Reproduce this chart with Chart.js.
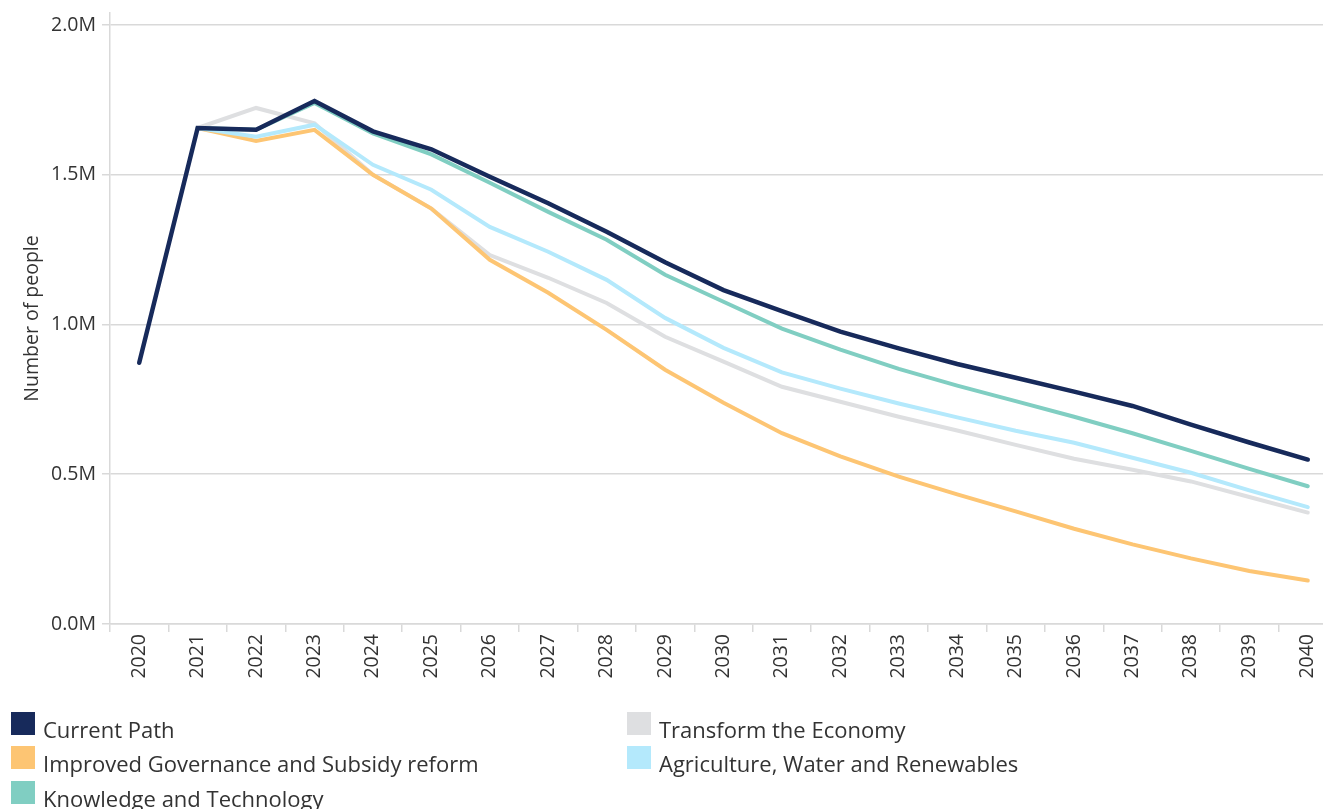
<!DOCTYPE html>
<html>
<head>
<meta charset="utf-8">
<script src="https://cdn.jsdelivr.net/npm/chart.js@4.4.1/dist/chart.umd.min.js"></script>
<style>
  html, body { margin: 0; padding: 0; background: #fff; width: 1323px; height: 809px; overflow: hidden; }
  #wrap { position: absolute; left: 0; top: 0; width: 1337px; height: 700px; }
  #legend { position: absolute; left: 0; top: 0; width: 1323px; height: 809px; pointer-events: none; }
  .lg-box { position: absolute; width: 24px; height: 23px; }
  .lg-txt { position: absolute; font-family: "Open Sans", sans-serif; font-size: 22px; line-height: 24px; color: #333; white-space: nowrap; }
</style>
</head>
<body>
<div id="wrap"><canvas id="chart" width="1337" height="700" style="width:1337px;height:700px"></canvas></div>
<div id="legend"></div>
<script>
// Categories
const years = ["2020","2021","2022","2023","2024","2025","2026","2027","2028","2029","2030",
               "2031","2032","2033","2034","2035","2036","2037","2038","2039","2040"];

// Series values (millions of people)
const currentPath = [0.872, 1.656, 1.650, 1.746, 1.645, 1.585, 1.493, 1.405, 1.310, 1.208, 1.115,
                     1.045, 0.976, 0.920, 0.868, 0.822, 0.776, 0.728, 0.666, 0.606, 0.549];
const transformEconomy = [null, 1.656, 1.723, 1.672, 1.500, 1.387, 1.232, 1.156, 1.072, 0.959, 0.876,
                          0.792, 0.742, 0.692, 0.646, 0.598, 0.552, 0.515, 0.476, 0.424, 0.372];
const improvedGovernance = [null, 1.656, 1.613, 1.650, 1.500, 1.387, 1.216, 1.106, 0.982, 0.849, 0.739,
                            0.637, 0.560, 0.492, 0.433, 0.376, 0.318, 0.266, 0.219, 0.177, 0.145];
const agricultureWater = [null, 1.656, 1.627, 1.667, 1.533, 1.450, 1.326, 1.243, 1.149, 1.022, 0.922,
                          0.840, 0.786, 0.736, 0.690, 0.645, 0.605, 0.555, 0.505, 0.446, 0.390];
const knowledgeTech = [null, 1.656, 1.650, 1.740, 1.638, 1.568, 1.473, 1.376, 1.283, 1.166, 1.076,
                       0.986, 0.916, 0.852, 0.796, 0.744, 0.692, 0.637, 0.578, 0.518, 0.460];

// Tick values for the y axis (millions)
const yTicks = [0, 0.5, 1.0, 1.5, 2.0];

// Series names and colours in legend order
const seriesNames = ["Current Path", "Transform the Economy", "Improved Governance and Subsidy reform",
                     "Agriculture, Water and Renewables", "Knowledge and Technology"];
const seriesValues = [currentPath, transformEconomy, improvedGovernance, agricultureWater, knowledgeTech];
const seriesColors = ["#172a5b", "#dedfe1", "#fdc573", "#b4e9fc", "#80cec2"];
const seriesWidths = [4.5, 4, 4, 4, 4];
const seriesOrder = [0, 4, 3, 2, 1];

const gridColor = "#d9d9d9";
const FONT = "'Open Sans', sans-serif";

const datasets = seriesNames.map((name, i) => ({
  label: name,
  data: seriesValues[i],
  borderColor: seriesColors[i],
  backgroundColor: seriesColors[i],
  borderWidth: seriesWidths[i],
  pointRadius: 0,
  pointHoverRadius: 0,
  tension: 0,
  fill: false,
  borderCapStyle: "round",
  borderJoinStyle: "miter",
  spanGaps: false,
  order: seriesOrder[i]
}));

new Chart(document.getElementById("chart"), {
  type: "line",
  data: { labels: years, datasets },
  options: {
    responsive: false,
    animation: false,
    devicePixelRatio: 1,
    layout: { padding: { top: 13, left: 0, right: 0, bottom: 0 } },
    plugins: { legend: { display: false }, tooltip: { enabled: false } },
    scales: {
      x: {
        type: "category",
        offset: true,
        grid: { display: true, drawOnChartArea: false, drawTicks: true, tickLength: 8, color: gridColor, lineWidth: 1.5, offset: true },
        border: { display: true, color: gridColor, width: 1.5 },
        ticks: { minRotation: 90, maxRotation: 90, autoSkip: false, padding: 2, color: "#333",
                 font: { family: FONT, size: 19.5 } },
        afterFit: (s) => { s.height = 76; s.paddingLeft = 0; s.paddingRight = 0; }
      },
      y: {
        min: 0,
        max: 2.04,
        afterBuildTicks: (s) => { s.ticks = yTicks.map(v => ({ value: v })); },
        grid: { color: gridColor, lineWidth: 1.5, drawTicks: true, tickLength: 8 },
        border: { display: true, color: gridColor, width: 1.5 },
        ticks: { padding: 6, color: "#333", font: { family: FONT, size: 19.5 },
                 callback: (v) => Number(v).toFixed(1) + "M" },
        title: { display: true, text: "Number of people", color: "#333",
                 font: { family: FONT, size: 19.5 }, padding: { top: 21, bottom: 0 } },
        afterFit: (s) => { s.width = 110; s.paddingTop = 0; s.paddingBottom = 0; }
      }
    }
  }
});

// HTML legend laid out in two columns like the reference
const legendEl = document.getElementById("legend");
const colX = [11, 627];
const rowY = [712, 746, 781];
seriesNames.forEach((name, i) => {
  const col = i % 2, row = Math.floor(i / 2);
  const box = document.createElement("div");
  box.className = "lg-box";
  box.style.left = colX[col] + "px";
  box.style.top = rowY[row] + "px";
  box.style.background = seriesColors[i];
  legendEl.appendChild(box);
  const txt = document.createElement("div");
  txt.className = "lg-txt";
  txt.style.left = (colX[col] + 32) + "px";
  txt.style.top = (rowY[row] + 5) + "px";
  txt.textContent = name;
  legendEl.appendChild(txt);
});
</script>
</body>
</html>
